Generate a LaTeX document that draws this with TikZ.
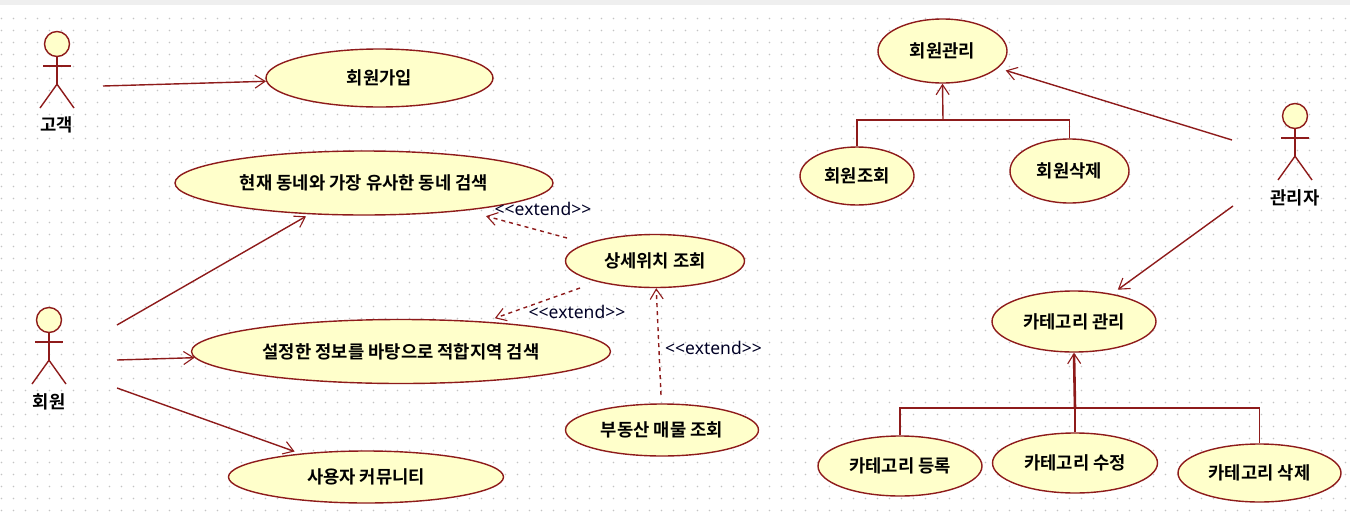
\documentclass[tikz,border=0pt]{standalone}
\usepackage{fontspec}
\setmainfont{Noto Sans}
\newfontfamily\krfont{Noto Sans CJK KR}[BoldFont={Noto Sans CJK KR Bold}]
\usetikzlibrary{arrows.meta}
\usetikzlibrary{shapes.geometric}
\definecolor{umlline}{HTML}{8E1B1B}
\definecolor{umlfill}{HTML}{FFFFCB}
\definecolor{griddot}{HTML}{C4C4C4}
\definecolor{topband}{HTML}{EFEFEF}
\begin{document}
\begin{tikzpicture}[x = 1pt, y = -1pt, line width = 1.4pt,
                      >={Straight Barb[length=10pt,width=13pt,line width=1.1pt]},
                      usecase/.style = {ellipse, draw = umlline, fill = umlfill, inner sep = 0pt, font = \krfont\bfseries\fontsize{17.7}{20}\selectfont},
                      head/.style = {circle, draw = umlline, fill = umlfill, minimum size = 25pt, inner sep = 0pt},
                      actorname/.style = {font = \krfont\bfseries\fontsize{17.7}{20}\selectfont, inner sep = 0pt},
                      extendname/.style = {font = \fontsize{17.5}{20}\selectfont, text = black!85!blue, inner sep = 0pt},
                      assoc/.style = {draw = umlline, ->},
                      extendline/.style = {draw = umlline, ->, dashed, dash pattern = on 4pt off 4pt},
                      bus/.style = {draw = umlline}]
    \useasboundingbox (0, 0) rectangle (1350, 520);
    \fill [white] (0, 0) rectangle (1350, 520);
    \fill [topband] (0, 0) rectangle (1350, 5);
    \foreach \i in {0,...,112}
        \foreach \j in {1,...,43}
            \fill [griddot] ({1.5 + 12*\i}, {6.5 + 12*\j}) circle (0.8pt);

    % use cases
    \node [usecase, minimum width = 227pt, minimum height = 58pt] (join) at (379.5, 78){회원가입};
    \node [usecase, minimum width = 378pt, minimum height = 64pt] (similar) at (364, 183){현재 동네와 가장 유사한 동네 검색};
    \node [usecase, minimum width = 179pt, minimum height = 53pt] (detail) at (655, 261){상세위치 조회};
    \node [usecase, minimum width = 419pt, minimum height = 64pt] (suitable) at (401, 351.5){설정한 정보를 바탕으로 적합지역 검색};
    \node [usecase, minimum width = 193pt, minimum height = 52pt] (estate) at (662, 430){부동산 매물 조회};
    \node [usecase, minimum width = 275pt, minimum height = 52pt] (community) at (366, 477){사용자 커뮤니티};
    \node [usecase, minimum width = 129pt, minimum height = 64pt] (member) at (942.5, 51){회원관리};
    \node [usecase, minimum width = 114pt, minimum height = 58pt] (memberview) at (857, 176){회원조회};
    \node [usecase, minimum width = 119pt, minimum height = 64pt] (memberdel) at (1069.5, 171){회원삭제};
    \node [usecase, minimum width = 164pt, minimum height = 61pt] (category) at (1074, 321.5){카테고리 관리};
    \node [usecase, minimum width = 164pt, minimum height = 60pt] (catadd) at (900, 466){카테고리 등록};
    \node [usecase, minimum width = 165pt, minimum height = 60pt] (catedit) at (1075, 463){카테고리 수정};
    \node [usecase, minimum width = 163pt, minimum height = 58pt] (catdel) at (1259.5, 473){카테고리 삭제};

    % actors
    \foreach \nm/\x/\y/\txt/\ofs in {customer/57/44/고객/81, user/49/320/회원/82, admin/1295/116/관리자/82} {
        \node [head] (\nm) at (\x, \y){};
        \draw [umlline] (\nm.south) -- ++(0, 27) coordinate (\nm hip);
        \draw [umlline] (\x - 14, \y + 22) -- (\x + 14, \y + 22);
        \draw [umlline] (\x - 17, \y + 64) -- (\nm hip) -- (\x + 17, \y + 64);
        \node [actorname] (\nm name) at (\x, \y + \ofs){\txt};
    }

    % free ends
    \coordinate (customerout) at (103, 86);
    \coordinate (userouta) at (117, 325);
    \coordinate (useroutb) at (117, 360);
    \coordinate (useroutc) at (117, 388);
    \coordinate (adminouta) at (1232, 140);
    \coordinate (adminoutb) at (1233, 206);
    \coordinate (detailout) at (567, 238);
    \coordinate (detailoutb) at (580, 288);
    \coordinate (estateout) at (661, 395);
    \coordinate (memberbus) at (943, 120);
    \coordinate (catbus) at (1075, 408);

    \draw [assoc] (customerout) -- (join);
    \draw [assoc, shorten >= 4pt] (userouta) -- (similar);
    \draw [assoc] (useroutb) -- (suitable);
    \draw [assoc, shorten >= 6pt] (useroutc) -- (community);
    \draw [assoc, shorten >= 8pt] (adminouta) -- (member);
    \draw [assoc, shorten >= 7pt] (adminoutb) -- (category);

    \draw [extendline, shorten >= 21pt] (detailout) -- (similar);
    \draw [extendline, shorten >= 10pt] (detailoutb) -- (suitable);
    \draw [extendline] (estateout) -- (detail);
    \node [extendname] (extenda) at (543, 209){<{}<extend>{}>};
    \node [extendname] (extendb) at (577, 312){<{}<extend>{}>};
    \node [extendname] (extendc) at (713.5, 348){<{}<extend>{}>};

    \draw [bus] (memberview.north) |- (memberbus) -| (memberdel.north);
    \draw [assoc] (memberbus) -- (member.south);
    \draw [bus] (catadd.north) |- (catbus) -| (catdel.north);
    \draw [bus] (catedit.north) -- (catbus);
    \draw [assoc, line width = 2.6pt] (catbus) -- (category.south);
    \end{tikzpicture}
\end{document}
